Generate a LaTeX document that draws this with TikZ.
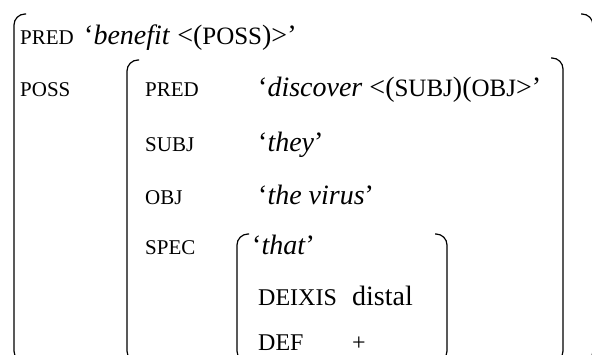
\documentclass[tikz,border=0pt]{standalone}
\usepackage{fontspec}
\setmainfont{Liberation Serif}
\usetikzlibrary{positioning}
\tikzstyle{attr} = [anchor=base west, inner sep=0pt, font=\fontsize{21}{24}\selectfont]
\tikzstyle{val} = [anchor=base west, inner sep=0pt, font=\fontsize{28}{32}\selectfont]
\tikzstyle{bigattr} = [anchor=base west, inner sep=0pt, font=\fontsize{24}{28}\selectfont]
\tikzset{
  brack/.style={line width=1.2pt, rounded corners=11pt}
}
\newcommand{\gf}[1]{{\fontsize{25}{28}\selectfont #1}}

\begin{document}
\begin{tikzpicture}[x=1pt, y=-1pt]
    \clip (0,0) rectangle (592,354);
    % nodes
    \node (PredA)  [attr] at (20,44)  {PRED};
    \node (Benefit) [val] at (84,44)  {‘\textit{benefit} <(\gf{POSS})>’};
    \node (Poss)   [attr] at (20,96)  {POSS};
    \node (PredB)  [attr] at (145,96) {PRED};
    \node (Discover) [val] at (258,96) {‘\textit{discover} <(\gf{SUBJ})(\gf{OBJ}>’};
    \node (Subj)   [attr] at (145,151) {SUBJ};
    \node (They)    [val] at (258,151) {‘\textit{they}’};
    \node (Obj)    [attr] at (145,204) {OBJ};
    \node (Virus)   [val] at (258,204) {‘\textit{the virus}’};
    \node (Spec)   [attr] at (145,254) {SPEC};
    \node (That)    [val] at (252,254) {‘\textit{that}’};
    \node (Deixis) [bigattr] at (258,305) {DEIXIS};
    \node (Distal) [bigattr, font=\fontsize{28}{30}\selectfont] at (352,305) {distal};
    \node (Def)    [bigattr] at (258,350) {DEF};
    \node (Plus)   [bigattr] at (352,350) {+};
    % brackets
    \draw[brack] (26,14) -- (14,14) -- (14,362) -- (26,362);
    \draw[brack] (581,14) -- (593,14) -- (593,362) -- (581,362);
    \draw[brack] (139,60) -- (127,60) -- (127,362) -- (139,362);
    \draw[brack] (551,58) -- (563,58) -- (563,362) -- (551,362);
    \draw[brack] (249,234) -- (237,234) -- (237,362) -- (249,362);
    \draw[brack] (435,234) -- (447,234) -- (447,362) -- (435,362);
\end{tikzpicture}
\end{document}
